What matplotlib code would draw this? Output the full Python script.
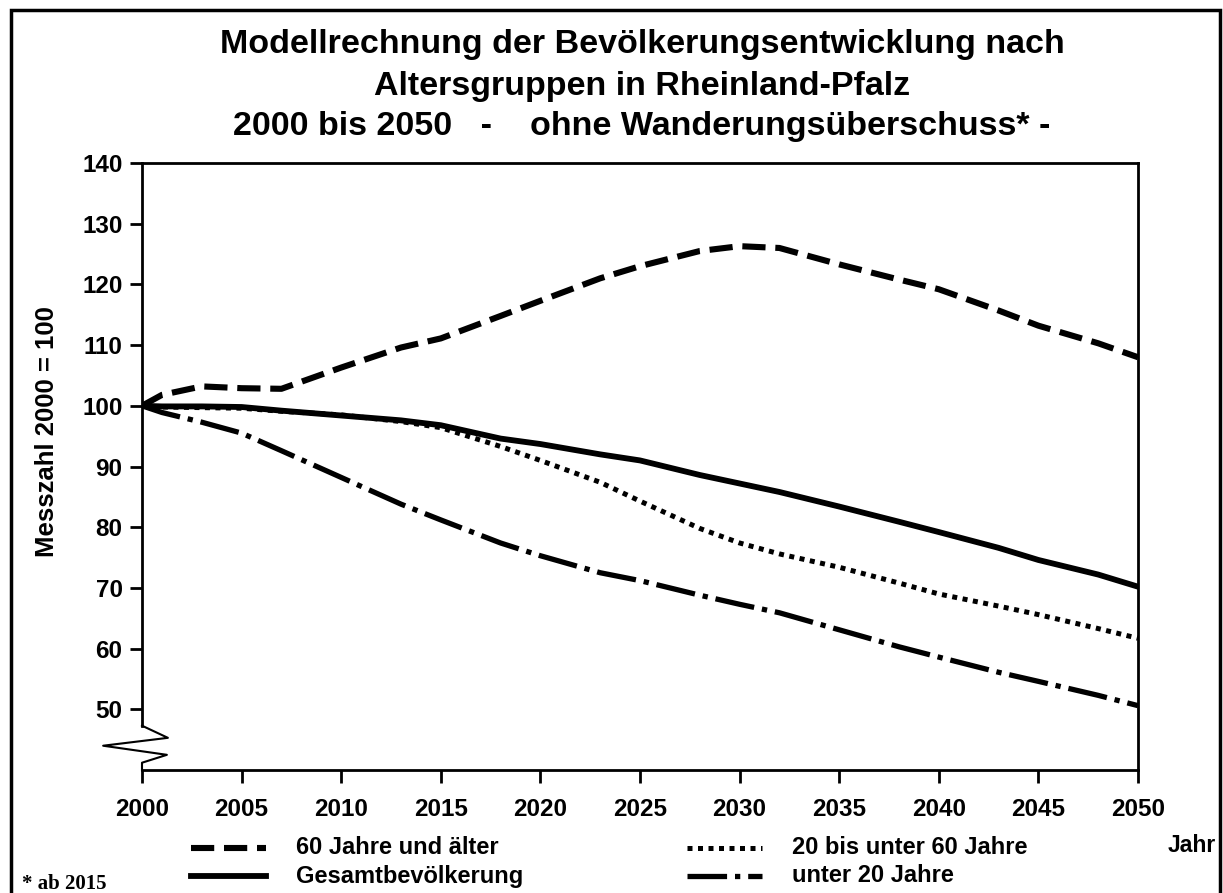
import matplotlib
matplotlib.use('Agg')
import matplotlib.pyplot as plt
from matplotlib.lines import Line2D
from matplotlib.patches import Rectangle

plt.rcParams['font.family'] = ['Liberation Sans', 'DejaVu Sans']

# Messzahl 2000 = 100
years = [2000, 2001, 2003, 2005, 2007, 2010, 2013, 2015, 2018, 2020, 2023,
         2025, 2028, 2030, 2032, 2035, 2038, 2040, 2043, 2045, 2048, 2050]
alt60 = [100, 101.8, 103.2, 102.9, 102.8, 106.3, 109.6, 111.1, 114.8, 117.3, 121.0,
         123.0, 125.5, 126.3, 126.0, 123.3, 120.8, 119.2, 115.7, 113.2, 110.3, 108.0]
gesamt = [100, 99.9, 99.9, 99.8, 99.2, 98.4, 97.6, 96.8, 94.6, 93.7, 92.0,
          91.0, 88.6, 87.2, 85.8, 83.4, 80.9, 79.2, 76.6, 74.6, 72.2, 70.2]
mitte = [100, 99.8, 99.7, 99.6, 99.1, 98.5, 97.4, 96.4, 93.3, 91.0, 87.4,
         84.3, 79.8, 77.4, 75.6, 73.4, 70.8, 69.0, 67.0, 65.6, 63.3, 61.7]
jung = [100, 98.9, 97.3, 95.5, 92.6, 88.2, 83.8, 81.2, 77.4, 75.3, 72.5,
        71.2, 68.8, 67.3, 65.9, 63.1, 60.3, 58.6, 56.1, 54.6, 52.3, 50.6]

xticks = list(range(2000, 2051, 5))
yticks = list(range(50, 141, 10))

ls60 = (0, (3.8, 1.6))
ls_mitte = (0, (1.0, 1.1))
ls_jung = (0, (7.5, 1.5, 1.0, 1.5))

W, H = 1223, 893
fig = plt.figure(figsize=(W / 100, H / 100), dpi=100)
ax = fig.add_axes([142 / W, 1 - 770 / H, (1138 - 142) / W, (770 - 163) / H])

ax.plot(years, alt60, color='black', lw=4.4, ls=ls60)
ax.plot(years, gesamt, color='black', lw=4.2, ls='-')
ax.plot(years, mitte, color='black', lw=3.6, ls=ls_mitte)
ax.plot(years, jung, color='black', lw=3.8, ls=ls_jung)

ax.set_xlim(2000, 2050)
ax.set_ylim(40, 140)
ax.set_xticks(xticks)
ax.set_yticks(yticks)
ax.tick_params(axis='both', direction='out', length=9, width=2, labelsize=17.5, pad=5)
for lab in ax.get_xticklabels() + ax.get_yticklabels():
    lab.set_fontweight('bold')
ax.tick_params(axis='x', pad=11)

for s in ax.spines.values():
    s.set_linewidth(2)
ax.spines['left'].set_bounds(47.3, 140)

# Achsenbruch (Zickzack)
zx = [0, 0, 0.026, -0.039, 0.025, 0, 0]
zy = [0.073, 0.073, 0.053, 0.040, 0.025, 0.012, 0]
ax.plot(zx, zy, color='black', lw=1.5, transform=ax.transAxes, clip_on=False)

ax.set_ylabel('Messzahl 2000 = 100', fontsize=18.5, fontweight='bold')
ax.yaxis.set_label_coords(-0.083, 0.557)

fig.text(642 / W, 1 - 45 / H, 'Modellrechnung der Bevölkerungsentwicklung nach',
         ha='center', va='center', fontsize=24.5, fontweight='bold')
fig.text(642 / W, 1 - 86 / H, 'Altersgruppen in Rheinland-Pfalz',
         ha='center', va='center', fontsize=24.5, fontweight='bold')
fig.text(642 / W, 1 - 126 / H, '2000 bis 2050   -    ohne Wanderungsüberschuss* -',
         ha='center', va='center', fontsize=24.5, fontweight='bold')

# Legende
entries = [
    (191, 848, ls60, 4.4, '60 Jahre und älter'),
    (191, 876, '-', 4.2, 'Gesamtbevölkerung'),
    (687, 848, ls_mitte, 3.6, '20 bis unter 60 Jahre'),
    (687, 876, ls_jung, 3.8, 'unter 20 Jahre'),
]
for x0, y0, ls, lw, txt in entries:
    fig.add_artist(Line2D([x0 / W, (x0 + 75) / W], [1 - y0 / H, 1 - y0 / H],
                          color='black', lw=lw, ls=ls, transform=fig.transFigure))
    fig.text((x0 + 105) / W, 1 - y0 / H, txt, ha='left', va='center',
             fontsize=17, fontweight='bold')

fig.text(1192 / W, 1 - 845 / H, 'Jahr', ha='center', va='center',
         fontsize=16.5, fontweight='bold')
fig.text(22 / W, 1 - 884 / H, '* ab 2015', ha='left', va='center',
         fontsize=15, fontweight='bold', family='Liberation Serif')

fig.add_artist(Rectangle((11 / W, -0.05), (1220 - 11) / W, 1.05 - 10 / H,
                         fill=False, lw=2.5, ec='black', transform=fig.transFigure))

fig.savefig('out.png', dpi=100)
